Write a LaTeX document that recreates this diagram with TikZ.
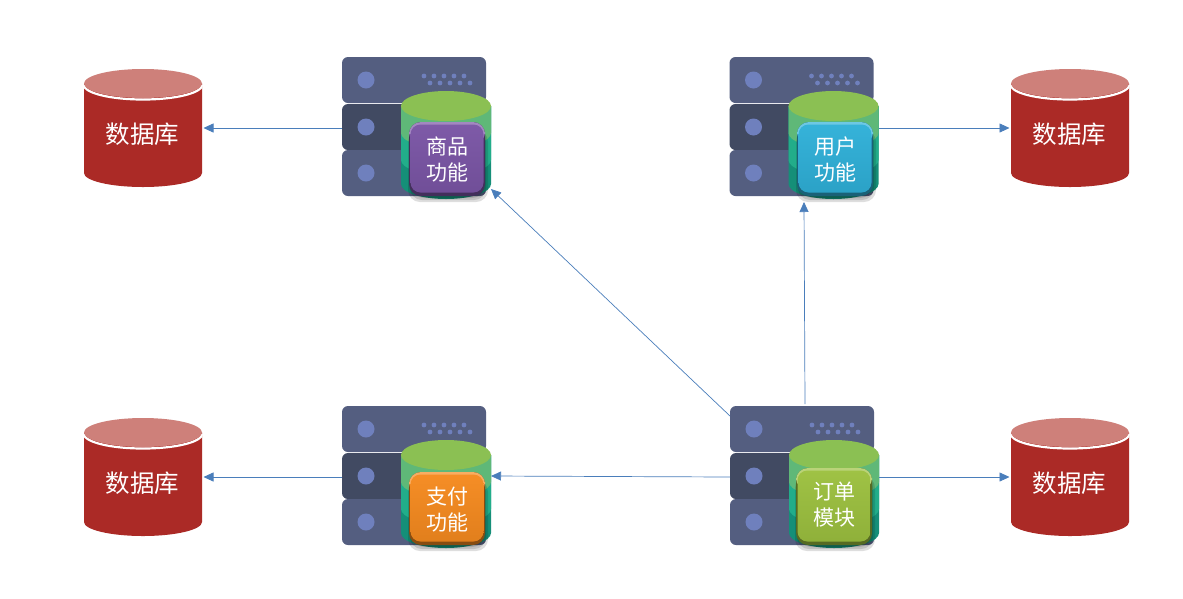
\documentclass[tikz,border=0pt]{standalone}
\usepackage{fontspec}
\newfontfamily\cjk{Noto Sans CJK SC}
\usetikzlibrary{arrows.meta}

\definecolor{rackA}{HTML}{545E80}
\definecolor{rackB}{HTML}{414A62}
\definecolor{rackDot}{HTML}{6F80BD}
\definecolor{bandA}{HTML}{5FB878}
\definecolor{bandB}{HTML}{22AD8A}
\definecolor{bandC}{HTML}{158F78}
\definecolor{capTop}{HTML}{8BC053}
\definecolor{dbRed}{HTML}{AB2A26}
\definecolor{dbTop}{HTML}{CE807A}
\definecolor{linkBlue}{HTML}{4A7EBB}
\definecolor{goodsMain}{HTML}{7A55A5}
\definecolor{userMain}{HTML}{2FB0D8}
\definecolor{payMain}{HTML}{F58A1F}
\definecolor{orderMain}{HTML}{9CC03F}

\tikzset{
  link/.style={draw=linkBlue, line width=0.7pt, -{Triangle[length=10pt,width=9pt]}},
  slot/.style={draw=none, inner sep=0pt, outer sep=1.5pt, minimum width=#1, minimum height=#1},
  dbtext/.style={text=white, font=\cjk\fontsize{24.5}{24.5}\selectfont},
  badgetext/.style={text=white, align=center, font=\cjk\fontsize{21}{26}\selectfont},
}

% #1 x, #2 y, #3 name, #4 badge colour, #5 first line, #6 second line,
% #7 badge top, #8 label y, #9 badge x shift
\newcommand{\rackunit}[9]{
  \begin{scope}[shift={(#1,#2)}]
    \fill [rackA, rounded corners=6] (0,0) rectangle (144,46);
    \fill [rackB, rounded corners=6] (0,47) rectangle (144,93);
    \fill [rackA, rounded corners=6] (0,93) rectangle (144,139);
    \foreach \y in {23,70,116}
      \fill [rackDot] (24,\y) circle (8.5);
    \foreach \i in {0,...,4} {
      \fill [rackDot] (82+10*\i,19) circle (2.4);
      \fill [rackDot] (88+10*\i,26) circle (2.4);
    }
    % cylinder, bottom band first
    \fill [bandC] (59,49) -- (59,127) arc [start angle=180, end angle=0, x radius=45, y radius=15] -- (149,49) -- cycle;
    \fill [bandB] (59,49) -- (59,103) arc [start angle=180, end angle=0, x radius=45, y radius=15] -- (149,49) -- cycle;
    \fill [bandA] (59,49) -- (59,76) arc [start angle=180, end angle=0, x radius=45, y radius=15] -- (149,49) -- cycle;
    \fill [capTop] (104,49) ellipse [x radius=45, y radius=15];
    % badge
    \begin{scope}[xshift=#9]
      \foreach \o in {0,2,4}
        \fill [black, opacity=0.13, rounded corners=12] (70-\o,#7+8) rectangle (142+\o,141+\o);
      \fill [#4!55!black, rounded corners=12] (67,#7) rectangle (143,139);
      \fill [#4!70!white, rounded corners=12] (67,#7) rectangle (143,#7+22);
      \shade [top color=#4!97!white, bottom color=#4!92!black, rounded corners=10] (68.5,#7+2.5) rectangle (141.5,135.5);
    \end{scope}
    \node [badgetext] (#3Label) at (105+#9,#8) {#5\\#6};
    \node [slot=0pt, minimum width=149pt, minimum height=142pt] (#3) at (74.5,71) {};
  \end{scope}
}

% #1 x, #2 y, #3 name
\newcommand{\dbunit}[3]{
  \begin{scope}[shift={(#1,#2)}]
    \fill [dbRed] (0,14.5) -- (0,104) arc [start angle=180, end angle=0, x radius=59, y radius=14] -- (118,14.5) -- cycle;
    \draw [white, line width=2.2pt] (0,16) arc [start angle=180, end angle=0, x radius=59, y radius=14.5];
    \fill [dbTop] (59,14.5) ellipse [x radius=59, y radius=14.5];
    \node [slot=118pt] (#3) at (59,59) {};
    \node [dbtext] (#3Label) at (58.5,65) {数据库};
  \end{scope}
}

\begin{document}
\begin{tikzpicture}[x=1pt, y=-1pt]
  \useasboundingbox [fill=white] (0,0) rectangle (1183,598);

  \rackunit{342}{57}{goods}{goodsMain}{商品}{功能}{65}{102.5}{0}
  \rackunit{729.5}{57}{user}{userMain}{用户}{功能}{65}{102.5}{0.5}
  \rackunit{342}{406}{pay}{payMain}{支付}{功能}{66}{103.5}{0}
  \rackunit{730}{406}{order}{orderMain}{订单}{模块}{62}{99}{-1}

  \dbunit{84}{69}{dbGoods}
  \dbunit{1011}{69}{dbUser}
  \dbunit{84}{418}{dbPay}
  \dbunit{1011}{418}{dbOrder}

  \coordinate (goodsIn) at (491,189);
  \coordinate (userIn) at (804,202);
  \coordinate (orderGoods) at (730,416);
  \coordinate (orderUser) at (805,404);
  \coordinate (goodsOut) at (342,128);
  \coordinate (payOut) at (342,477);
  \coordinate (userOut) at (879,128);
  \coordinate (orderOut) at (879,477);
  \coordinate (orderPay) at (730,477);
  \coordinate (payIn) at (491,476);

  \draw [link] (goodsOut) -- (dbGoods.east);
  \draw [link] (userOut) -- (dbUser.west);
  \draw [link] (payOut) -- (dbPay.east);
  \draw [link] (orderOut) -- (dbOrder.west);
  \draw [link] (orderGoods) -- (goodsIn);
  \draw [link] (orderUser) -- (userIn);
  \draw [link] (orderPay) -- (payIn);
\end{tikzpicture}
\end{document}
